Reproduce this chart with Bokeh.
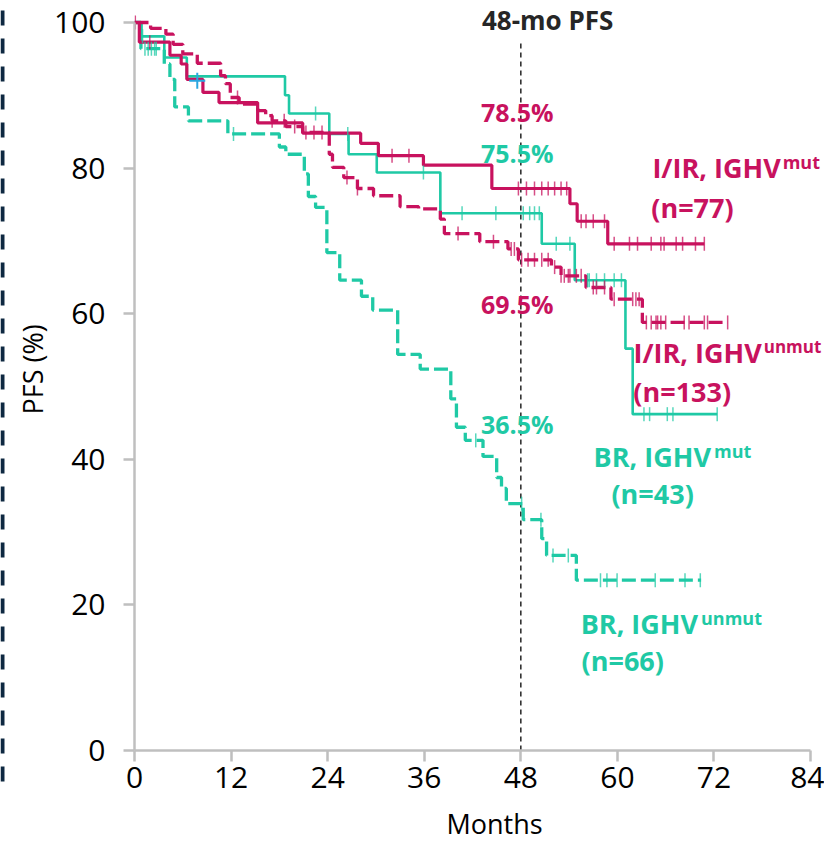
import numpy as np
from bokeh.plotting import figure
from bokeh.models import Range1d, FixedTicker, Label, Title
from bokeh.layouts import row, column
from bokeh.embed import file_html
from bokeh.resources import INLINE

# ---------------- data ----------------
x_ticks = [0, 12, 24, 36, 48, 60, 72, 84]
y_ticks = [0, 20, 40, 60, 80, 100]
landmark_month = 48

# I/IR, IGHV mut (solid magenta)
iir_mut_t = [0, 0.6, 4.4, 5.8, 6.5, 8.5, 10.5, 15.3, 20.9, 28.1, 30.3, 35.9, 44.4, 54.1, 55.0, 58.8, 70.8]
iir_mut_s = [100, 97.3, 95.5, 94.3, 92.2, 90.4, 89.0, 86.2, 84.8, 83.4, 81.7, 80.4, 77.2, 75.1, 72.7, 69.6, 69.6]
iir_mut_cens = [0.1, 1.9, 32.0, 34.1, 47.7, 48.7, 49.7, 50.6, 51.4, 52.2, 53.0, 53.7, 55.5, 56.1,
                57.0, 58.4, 59.6, 61.5, 62.5, 64.2, 65.4, 65.8, 67.3, 68.1, 69.7, 70.8]

# I/IR, IGHV unmut (dashed magenta)
iir_unmut_t = [0, 2.0, 3.9, 4.8, 6.0, 7.8, 10.5, 10.7, 11.3, 11.9, 13.0, 15.3, 16.3, 17.1, 18.8, 20.9,
               24.2, 24.6, 26.0, 27.7, 29.7, 33.0, 35.3, 38.0, 38.5, 42.9, 46.4, 47.7, 51.8, 53.0,
               56.1, 59.2, 63.1, 73.7]
iir_unmut_s = [100, 99.2, 98.4, 97.0, 95.7, 94.4, 94.4, 92.7, 91.6, 89.7, 88.8, 87.9, 87.2, 86.5, 85.7, 84.9,
               81.9, 80.1, 78.7, 77.2, 76.2, 74.7, 74.4, 73.0, 71.0, 69.9, 68.9, 67.4, 66.4, 65.2,
               63.6, 62.0, 58.8, 58.8]
iir_unmut_cens = [12.8, 17.1, 18.6, 19.9, 21.3, 22.3, 23.3, 26.4, 27.7, 40.2, 44.6, 46.8, 47.2,
                  48.1, 48.9, 49.7, 50.6, 51.4, 52.2, 53.0, 53.9, 53.4, 54.1, 54.9, 55.5,
                  57.0, 57.4, 58.4, 59.6, 61.9, 62.3, 62.7, 63.6, 64.2, 64.8, 65.0, 65.4, 66.0,
                  68.3, 68.9, 70.8, 71.2, 73.7]

# BR, IGHV mut (solid teal)
br_mut_t = [0, 0.85, 3.7, 6.5, 18.7, 19.2, 24.2, 26.6, 30.1, 38.0, 50.6, 54.7, 61.0, 61.9, 72.4]
br_mut_s = [100, 98.1, 95.2, 92.6, 90.0, 87.5, 84.7, 81.9, 79.4, 73.8, 69.6, 64.6, 55.2, 46.2, 46.2]
br_mut_cens = [1.0, 22.5, 26.5, 35.9, 40.7, 44.9, 48.3, 49.1, 49.7, 50.3, 52.4, 54.1, 56.3, 56.5,
               57.4, 58.4, 59.6, 60.5, 63.3, 64.0, 66.2, 66.9, 72.4]

# BR, IGHV unmut (dashed teal)
br_unmut_t = [0, 0.8, 3.7, 4.4, 5.0, 6.7, 11.6, 18.0, 18.8, 21.1, 21.6, 22.5, 23.9, 25.5, 28.2, 29.6,
              32.7, 35.5, 39.3, 40.0, 41.1, 43.3, 45.0, 45.6, 46.2, 48.3, 50.6, 51.2, 54.9, 70.4]
br_unmut_s = [100, 96.4, 94.3, 92.2, 88.4, 86.5, 84.7, 82.9, 81.9, 79.2, 76.1, 74.6, 68.4, 64.6, 62.4, 60.5,
              54.4, 52.4, 48.3, 44.4, 42.6, 40.4, 37.5, 36.0, 33.9, 31.7, 29.1, 26.8, 23.4, 23.4]
br_unmut_cens = [1.3, 1.7, 2.1, 2.5, 2.7, 12.3, 42.4, 48.1, 50.5, 52.0, 53.9, 57.9, 58.7, 59.96,
                 64.7, 68.4, 70.3]

other_cens_t = [7.8]
other_cens_s = [92.0]

pct_labels = ["78.5%", "75.5%", "69.5%", "36.5%"]

# ---------------- styling ----------------
MAG = "#C8125E"
TEAL = "#1FC9A5"
AXIS = "#BFBFBF"
FONT = "Open Sans"

X_MAX = 84
Y_MAX = 100
FRAME_W = 693           # frame from window x=131 to 824
PX_PER_X = 679 / 84     # 0..84 spans 679 px
PX_PER_Y = 728 / 100    # 0..100 spans 728 px
TOP_PAD_PX = 22         # frame extends above 100 so top labels are not clipped
MAIN_H = 806
STRIP_H = 841 - MAIN_H


def step_at(t, s, c):
    t = np.asarray(t)
    s = np.asarray(s)
    idx = np.searchsorted(t, np.asarray(c), side="right") - 1
    return s[np.clip(idx, 0, len(s) - 1)]


p = figure(width=814, height=MAIN_H,
           x_range=Range1d(0, FRAME_W / PX_PER_X),
           y_range=Range1d(0, Y_MAX + TOP_PAD_PX / PX_PER_Y),
           output_backend="svg", toolbar_location=None,
           min_border_left=121, min_border_right=0, min_border_top=0, min_border_bottom=MAIN_H - 750)
p.outline_line_color = None
p.grid.visible = False
p.background_fill_color = "white"
p.border_fill_color = "white"

for ax in (p.xaxis, p.yaxis):
    ax.axis_line_color = AXIS
    ax.axis_line_width = 2.5
    ax.major_tick_line_color = AXIS
    ax.major_tick_line_width = 2.5
    ax.major_tick_out = 11
    ax.major_tick_in = 0
    ax.minor_tick_line_color = None
    ax.major_label_text_font = FONT
    ax.major_label_text_font_size = "30px"
    ax.major_label_text_color = "black"
p.xaxis.ticker = FixedTicker(ticks=x_ticks)
p.yaxis.ticker = FixedTicker(ticks=y_ticks)
p.xaxis.bounds = (0, X_MAX)
p.yaxis.bounds = (0, Y_MAX)
p.xaxis.major_label_standoff = 5
p.yaxis.major_label_standoff = 18

# y axis title as side-panel title (offset like the reference)
p.add_layout(Title(text="PFS (%)", align="left", offset=336, text_font=FONT, text_font_size="27px",
                   text_font_style="normal", text_color="black", standoff=2), "left")

# landmark line
p.segment(x0=[landmark_month], y0=[0], x1=[landmark_month], y1=[97.1],
          line_color="#333333", line_width=1.6, line_dash="5 4")

# curves
p.step(br_unmut_t, br_unmut_s, mode="after", line_color=TEAL, line_width=3.3, line_dash="14 5")
p.step(br_mut_t, br_mut_s, mode="after", line_color=TEAL, line_width=2.6)
p.step(iir_unmut_t, iir_unmut_s, mode="after", line_color=MAG, line_width=3.3, line_dash="14 5")
p.step(iir_mut_t, iir_mut_s, mode="after", line_color=MAG, line_width=3.2)

# censor marks
for cens, t, s, col in [(br_unmut_cens, br_unmut_t, br_unmut_s, TEAL),
                        (br_mut_cens, br_mut_t, br_mut_s, TEAL),
                        (iir_unmut_cens, iir_unmut_t, iir_unmut_s, MAG),
                        (iir_mut_cens, iir_mut_t, iir_mut_s, MAG)]:
    p.scatter(cens, step_at(t, s, cens), marker="dash", angle=np.pi / 2, size=14,
              line_color=col, line_width=1.5, line_alpha=0.75)
p.scatter(other_cens_t, other_cens_s, marker="cross", size=16, line_color="#2AA7E0", line_width=2)


def px2x(px):
    return (px - 131.0) / PX_PER_X


def py2y(py):
    return (750.0 - py) / PX_PER_Y


def lab(text, px, py, color, size, align="left"):
    p.add_layout(Label(x=px2x(px), y=py2y(py), text=text, text_color=color,
                       text_font=FONT, text_font_size=f"{size}px", text_font_style="bold",
                       text_align=align, text_baseline="middle"))


# title of landmark
lab("48-mo PFS", 480, 19, "#262626", 26)

# percentages
lab(pct_labels[0], 479, 111, MAG, 25)
lab(pct_labels[1], 479, 152, TEAL, 25)
lab(pct_labels[2], 479, 303, MAG, 25)
lab(pct_labels[3], 479, 423, TEAL, 25)

# group labels (main text right-aligned at boundary, superscript left-aligned)
lab("I/IR, IGHV", 780, 167, MAG, 27, align="right")
lab("mut", 782, 161, MAG, 18)
lab("(n=77)", 650, 207, MAG, 27)

lab("I/IR, IGHV", 761, 352, MAG, 27, align="right")
lab("unmut", 763, 346, MAG, 17)
lab("(n=133)", 632, 391, MAG, 27)

lab("BR, IGHV", 710, 456, TEAL, 27, align="right")
lab("mut", 713, 450, TEAL, 18)
lab("(n=43)", 610, 493, TEAL, 27)

lab("BR, IGHV", 697, 623, TEAL, 27, align="right")
lab("unmut", 700, 617, TEAL, 18)
lab("(n=66)", 580, 660, TEAL, 27)

# x axis title strip below the main plot
m = figure(width=814, height=STRIP_H, x_range=Range1d(-121 / PX_PER_X, FRAME_W / PX_PER_X),
           y_range=Range1d(0, STRIP_H), output_backend="svg", toolbar_location=None, min_border=0,
           x_axis_location=None, y_axis_location=None)
m.grid.visible = False
m.outline_line_color = None
m.add_layout(Label(x=px2x(378), y=STRIP_H - (823 - MAIN_H), text="Months", text_color="black",
                   text_font=FONT, text_font_size="27px", text_align="left", text_baseline="middle"))

# left navy dashed border decoration
d = figure(width=10, height=841, x_range=Range1d(0, 10), y_range=Range1d(0, 841),
           output_backend="svg", toolbar_location=None, min_border=0,
           x_axis_location=None, y_axis_location=None)
d.grid.visible = False
d.outline_line_color = None
d.segment(x0=[2], y0=[831], x1=[2], y1=[56], line_color="#0E2841", line_width=4, line_dash="15 13")

layout = row(d, column(p, m, spacing=0), spacing=0)
open("out.html", "w").write(file_html(layout, INLINE))
